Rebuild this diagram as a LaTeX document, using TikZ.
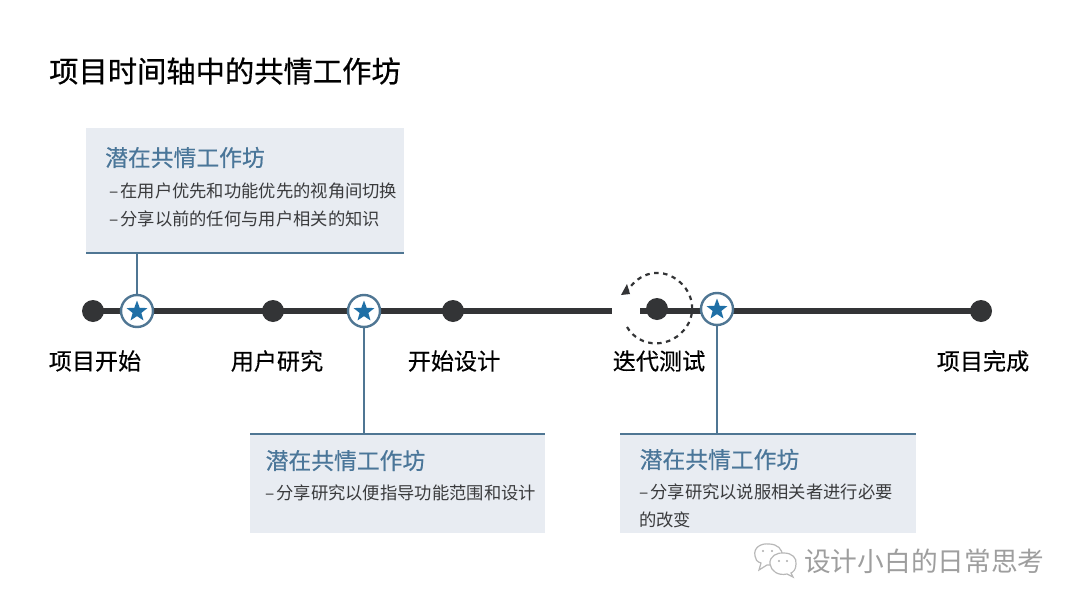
\documentclass[tikz,border=0pt]{standalone}
\usepackage{fontspec}
\setmainfont{Noto Sans CJK SC}[FakeBold=0.35]
\newfontfamily\headfont{Noto Sans CJK SC}[FakeBold=0.5]
\newfontfamily\plainfont{Noto Sans CJK SC}
\usetikzlibrary{shapes.geometric,calc}
\definecolor{boxfill}{HTML}{E8ECF2}
\definecolor{rulec}{HTML}{4F7693}
\definecolor{headc}{HTML}{4A7699}
\definecolor{starc}{HTML}{1F6FA6}
\definecolor{darkc}{HTML}{333436}
\definecolor{textc}{HTML}{3A3B3D}
\newcommand{\fs}[1]{\fontsize{#1pt}{#1pt}\selectfont}
\newcommand{\dashlead}{–\kern2pt}
\tikzset{
  x=1pt,y=-1pt,
  dotnode/.style={circle,fill=darkc,inner sep=0pt,minimum size=22pt},
  ringnode/.style={circle,draw=rulec,line width=2.4pt,fill=white,inner sep=0pt,minimum size=32pt},
  starnode/.style={star,star points=5,star point ratio=2.4,fill=starc,inner sep=0pt,minimum size=22pt},
  axislabel/.style={font=\fs{23.1},text=black,anchor=center,inner sep=0pt},
  panel/.style={fill=boxfill,draw=none},
  headtext/.style={font=\headfont\fs{22.8},text=headc,anchor=west,inner sep=0pt},
  bodytext/.style={font=\plainfont\fs{17.3},text=textc,anchor=west,inner sep=0pt},
  rulel/.style={draw=rulec,line width=2pt},
  axisline/.style={draw=darkc,line width=5.5pt},
  looparc/.style={draw=darkc,line width=2.2pt,dash pattern=on 4.5pt off 4.5pt},
  wm/.style={font=\plainfont\fs{26.7},text=black!38,anchor=west,inner sep=0pt},
  wmicon/.style={draw=black!28,line width=1.2pt,fill=white}
}
\begin{document}
\begin{tikzpicture}
\useasboundingbox (0,0) rectangle (1080,608);
\fill[white] (0,0) rectangle (1080,608);

\node[font=\headfont\fs{29.3},text=black,anchor=west,inner sep=0pt] (title) at (49,71) {项目时间轴中的共情工作坊};

% panels
\fill[panel] (86,128) rectangle (404,253);
\fill[panel] (250,434) rectangle (545,533);
\fill[panel] (620,434) rectangle (916,533);
\coordinate (p1l) at (86,253); \coordinate (p1r) at (404,253);
\coordinate (p2l) at (250,434); \coordinate (p2r) at (545,434);
\coordinate (p3l) at (620,434); \coordinate (p3r) at (916,434);
\draw[rulel] (p1l) -- (p1r);
\draw[rulel] (p2l) -- (p2r);
\draw[rulel] (p3l) -- (p3r);

% axis
\coordinate (gapA) at (612,311);
\coordinate (gapB) at (640,311);
\node[dotnode] (d1) at (93,311) {};
\node[dotnode] (d2) at (273,311) {};
\node[dotnode] (d3) at (453,311) {};
\node[dotnode] (d4) at (657,309) {};
\node[dotnode] (d5) at (981,311) {};
\draw[axisline] (d1.center) -- (gapA);
\draw[axisline] (gapB) -- (d5.center);

% connectors and starred markers
\coordinate (c1) at (137,253);
\coordinate (c2) at (364,434);
\coordinate (c3) at (717,434);
\node[ringnode] (r1) at (137,311) {};
\node[ringnode] (r2) at (364,311) {};
\node[ringnode] (r3) at (717,309) {};
\draw[rulel] (c1) -- (r1.north);
\draw[rulel] (r2.south) -- (c2);
\draw[rulel] (r3.south) -- (c3);
\node[starnode] (s1) at (137,311.5) {};
\node[starnode] (s2) at (364,311.5) {};
\node[starnode] (s3) at (717,309.5) {};

% loop
\draw[looparc] (627,327) .. controls (640,349) and (672,349) .. (687,326) .. controls (697,310) and (692,290) .. (676,279) .. controls (660,268) and (640,272) .. (628,290);
\fill[darkc] (621,295) -- (630,294) -- (627,284) -- cycle;

% axis labels
\node[axislabel] (l1) at (95,361) {项目开始};
\node[axislabel] (l2) at (277,361) {用户研究};
\node[axislabel] (l3) at (454,361) {开始设计};
\node[axislabel] (l4) at (659,361) {迭代测试};
\node[axislabel] (l5) at (983,361) {项目完成};

% panel text
\node[headtext] (h1) at (105,157.5) {潜在共情工作坊};
\node[bodytext] (b11) at (109,191) {\dashlead 在用户优先和功能优先的视角间切换};
\node[bodytext] (b12) at (109,219) {\dashlead 分享以前的任何与用户相关的知识};
\node[headtext] (h2) at (265.5,460.5) {潜在共情工作坊};
\node[bodytext] (b21) at (265,493) {\dashlead 分享研究以便指导功能范围和设计};
\node[headtext] (h3) at (639.5,459.5) {潜在共情工作坊};
\node[bodytext] (b31) at (639,492) {\dashlead 分享研究以说服相关者进行必要};
\node[bodytext] (b32) at (639,520) {的改变};

% watermark
\draw[wmicon] (755,556) .. controls (753,547) and (762,543) .. (769,544) .. controls (777,544) and (783,549) .. (782,556) .. controls (781,563) and (773,566) .. (767,565) -- (759,570) -- (761,563) .. controls (757,562) and (755,559) .. (755,556) -- cycle;
\draw[wmicon] (770,564) .. controls (769,556) and (778,552) .. (784,553) .. controls (792,553) and (797,558) .. (796,564) .. controls (796,570) and (793,572) .. (791,573) -- (793,577) -- (787,574) .. controls (778,576) and (771,571) .. (770,564) -- cycle;
\fill[black!32] (763,551) circle (1.2pt) (772,551) circle (1.2pt) (779,561) circle (1.2pt) (787,561) circle (1.2pt);
\node[wm] (wm) at (804,561) {设计小白的日常思考};
\end{tikzpicture}
\end{document}
